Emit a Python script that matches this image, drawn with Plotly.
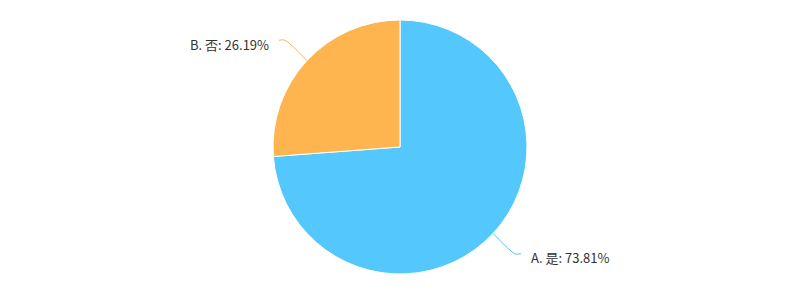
import math
import plotly.graph_objects as go

labels = ["A. 是", "B. 否"]
values = [73.81, 26.19]
colors = ["#54c7fc", "#ffb54f"]

W, H = 800, 300
cx, cy, R = 400, 147, 127

fig = go.Figure()
fig.add_trace(go.Pie(
    labels=labels, values=values, sort=False, direction="clockwise", rotation=0,
    marker=dict(colors=colors, line=dict(color="#ffffff", width=1)),
    textinfo="none", hoverinfo="skip", showlegend=False,
    domain=dict(x=[(cx - R) / W, (cx + R) / W], y=[1 - (cy + R) / H, 1 - (cy - R) / H]),
))

total = sum(values)
cum = 0
annotations = []
for lab, v, col in zip(labels, values, colors):
    mid = (cum + v / 2) / total * 360  # clockwise from top
    cum += v
    a = math.radians(90 - mid)
    x0, y0 = cx + R * math.cos(a), cy - R * math.sin(a)
    r2 = R + 30
    x1, y1 = cx + r2 * math.cos(a), cy - r2 * math.sin(a)
    side = 1 if math.cos(a) >= 0 else -1
    x2, y2 = x1 + side * 6, y1
    fig.add_trace(go.Scatter(
        x=[x0, x1, x2], y=[y0, y1, y2], mode="lines",
        line=dict(color=col, width=1, shape="spline", smoothing=0.8),
        hoverinfo="skip", showlegend=False, xaxis="x", yaxis="y",
    ))
    annotations.append(dict(
        x=x2 + side * 8, y=y2 + 4, xref="x", yref="y",
        text=f"{lab}: {v:.2f}%", showarrow=False,
        xanchor="left" if side > 0 else "right", yanchor="middle",
        font=dict(family="Noto Sans CJK SC, Noto Sans, sans-serif", size=13, color="#333333"),
    ))

fig.update_layout(
    width=W, height=H, margin=dict(l=0, r=0, t=0, b=0),
    paper_bgcolor="#ffffff", plot_bgcolor="rgba(0,0,0,0)",
    xaxis=dict(range=[0, W], visible=False, fixedrange=True, domain=[0, 1]),
    yaxis=dict(range=[H, 0], visible=False, fixedrange=True, domain=[0, 1]),
    annotations=annotations,
)
fig.write_html("out.html")
